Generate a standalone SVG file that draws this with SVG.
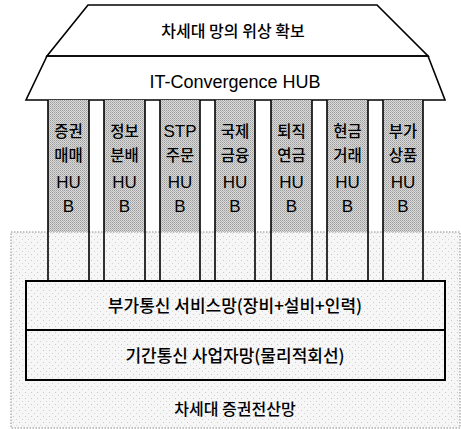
<svg xmlns="http://www.w3.org/2000/svg" width="461" height="429" viewBox="0 0 461 429">
<style>
text{font-family:"Liberation Sans","Noto Sans CJK KR",sans-serif;fill:#000;text-anchor:middle}
.ko{font-family:"Noto Sans CJK KR","Liberation Sans",sans-serif;font-weight:500}
.t16{font-size:16px}
.t17{font-size:17px}
.ct{font-size:15.5px}
.cl{font-size:17px}
.line{fill:none;stroke:#000;stroke-width:1.6}
.col{fill:url(#dense);stroke:none}
.colb{fill:none;stroke:#000;stroke-width:1.6}
.bar{fill:url(#light);stroke:#000;stroke-width:2}
</style>
<defs>
<pattern id="light" width="6" height="6" patternUnits="userSpaceOnUse">
<rect width="6" height="6" fill="#f6f6f6"/>
<rect x="1" y="2" width="1" height="1" fill="#c8c8c8"/>
<rect x="4" y="5" width="1" height="1" fill="#d4d4d4"/>
</pattern>
<pattern id="dense" width="2" height="2" patternUnits="userSpaceOnUse">
<rect width="2" height="2" fill="#dadada"/>
<rect x="0" y="0" width="1" height="1" fill="#9c9c9c"/>
<rect x="1" y="1" width="1" height="1" fill="#b4b4b4"/>
</pattern>
</defs>
<rect width="461" height="429" fill="#fff"/>

<g id="base">
<rect x="11" y="232" width="449" height="196" fill="url(#light)" stroke="#8a8a8a" stroke-width="1" stroke-dasharray="1.5 1.5"/>
<text class="ko t16" x="235" y="415">차세대 증권전산망</text>
</g>

<g id="roof">
<polygon points="88,5 377,5 428,56 47,56" fill="#fff" class="line"/>
<polygon points="47,56 428,56 445,100 26,100" fill="#fff" class="line"/>
<text class="ko t16" x="233" y="37">차세대 망의 위상 확보</text>
<text x="235" y="88" style="font-size:18px">IT-Convergence HUB</text>
</g>

<g id="col1">
<rect class="col" x="48" y="100" width="41" height="132"/>
<line class="colb" x1="48" y1="100" x2="48" y2="281"/><line class="colb" x1="89" y1="100" x2="89" y2="281"/>
<text class="ko ct" x="68.5" y="137">증권</text><text class="ko ct" x="68.5" y="161">매매</text>
<text class="cl" x="68.5" y="188">HU</text><text class="cl" x="68.5" y="212">B</text>
</g>
<g id="col2">
<rect class="col" x="104" y="100" width="41" height="132"/>
<line class="colb" x1="104" y1="100" x2="104" y2="281"/><line class="colb" x1="145" y1="100" x2="145" y2="281"/>
<text class="ko ct" x="124.5" y="137">정보</text><text class="ko ct" x="124.5" y="161">분배</text>
<text class="cl" x="124.5" y="188">HU</text><text class="cl" x="124.5" y="212">B</text>
</g>
<g id="col3">
<rect class="col" x="160" y="100" width="40" height="132"/>
<line class="colb" x1="160" y1="100" x2="160" y2="281"/><line class="colb" x1="200" y1="100" x2="200" y2="281"/>
<text class="cl" x="180" y="137">STP</text><text class="ko ct" x="180" y="161">주문</text>
<text class="cl" x="180" y="188">HU</text><text class="cl" x="180" y="212">B</text>
</g>
<g id="col4">
<rect class="col" x="215" y="100" width="40" height="132"/>
<line class="colb" x1="215" y1="100" x2="215" y2="281"/><line class="colb" x1="255" y1="100" x2="255" y2="281"/>
<text class="ko ct" x="235" y="137">국제</text><text class="ko ct" x="235" y="161">금융</text>
<text class="cl" x="235" y="188">HU</text><text class="cl" x="235" y="212">B</text>
</g>
<g id="col5">
<rect class="col" x="271" y="100" width="41" height="132"/>
<line class="colb" x1="271" y1="100" x2="271" y2="281"/><line class="colb" x1="312" y1="100" x2="312" y2="281"/>
<text class="ko ct" x="291.5" y="137">퇴직</text><text class="ko ct" x="291.5" y="161">연금</text>
<text class="cl" x="291.5" y="188">HU</text><text class="cl" x="291.5" y="212">B</text>
</g>
<g id="col6">
<rect class="col" x="327" y="100" width="41" height="132"/>
<line class="colb" x1="327" y1="100" x2="327" y2="281"/><line class="colb" x1="368" y1="100" x2="368" y2="281"/>
<text class="ko ct" x="347.5" y="137">현금</text><text class="ko ct" x="347.5" y="161">거래</text>
<text class="cl" x="347.5" y="188">HU</text><text class="cl" x="347.5" y="212">B</text>
</g>
<g id="col7">
<rect class="col" x="383" y="100" width="40" height="132"/>
<line class="colb" x1="383" y1="100" x2="383" y2="281"/><line class="colb" x1="423" y1="100" x2="423" y2="281"/>
<text class="ko ct" x="403" y="137">부가</text><text class="ko ct" x="403" y="161">상품</text>
<text class="cl" x="403" y="188">HU</text><text class="cl" x="403" y="212">B</text>
</g>

<g id="bar-service">
<rect class="bar" x="26" y="281" width="419" height="49"/>
<text class="ko t17" x="235" y="312">부가통신 서비스망(장비+설비+인력)</text>
</g>
<g id="bar-backbone">
<rect class="bar" x="26" y="330" width="419" height="50"/>
<text class="ko t17" x="235" y="362">기간통신 사업자망(물리적회선)</text>
</g>
<g id="connectors"></g>
</svg>
